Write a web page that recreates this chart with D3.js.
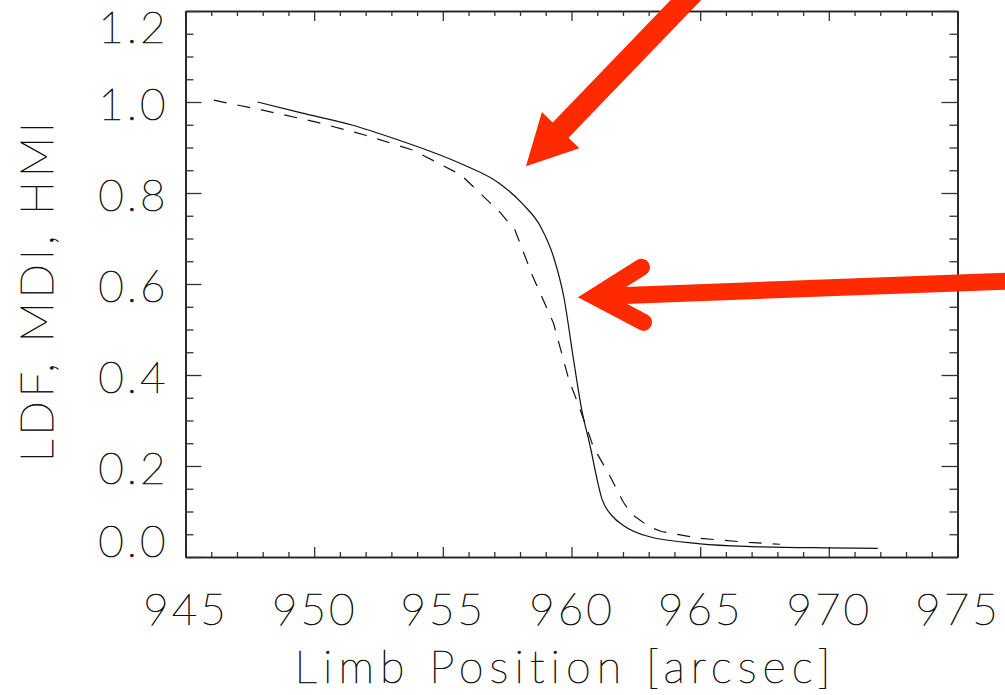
<!DOCTYPE html>
<html>
<head>
<meta charset="utf-8">
<script src="https://cdn.jsdelivr.net/npm/d3@7"></script>
<style>
  html, body { margin: 0; padding: 0; background: #fff; }
  svg text { font-family: Lato, "DejaVu Sans", sans-serif; font-weight: 200; fill: #111; stroke: #111; stroke-width: 0.7px; }
</style>
</head>
<body>
<div id="chart"></div>
<script>
// curve values
const solidX = [947.8, 949.5, 951.5, 953.3, 954.4, 955.8, 957.2, 958.1, 958.8, 959.3, 959.7, 960.1, 960.4, 960.7, 961.2, 961.6, 962.0, 963.0, 965.0, 967.0, 970.0, 971.9];
const solidY = [1.0, 0.976, 0.949, 0.916, 0.894, 0.862, 0.821, 0.776, 0.726, 0.660, 0.572, 0.426, 0.323, 0.250, 0.125, 0.089, 0.070, 0.045, 0.029, 0.023, 0.020, 0.019];

const dashX = [946.1, 948.0, 950.0, 952.0, 953.85, 955.7, 957.2, 957.8, 958.5, 959.3, 959.9, 960.3, 960.85, 961.5, 962.0, 962.3, 963.0, 963.5, 965.0, 966.9, 968.1];
const dashY = [1.004, 0.982, 0.957, 0.927, 0.894, 0.840, 0.759, 0.719, 0.616, 0.514, 0.389, 0.330, 0.242, 0.177, 0.122, 0.096, 0.067, 0.056, 0.041, 0.032, 0.028];

const xTicks = [945, 950, 955, 960, 965, 970, 975];
const yTicks = [0.0, 0.2, 0.4, 0.6, 0.8, 1.0, 1.2];

// red annotation arrows, tail -> tip, in data units
const arrowTails = [[965.38, 1.279], [977.24, 0.607]];
const arrowTips = [[958.23, 0.859], [960.25, 0.571]];

const width = 1005, height = 695;
const margin = { top: 11, right: 47.5, bottom: 138, left: 185.5 };
const w = width - margin.left - margin.right;
const h = height - margin.top - margin.bottom;

const svg = d3.select("#chart").append("svg")
  .attr("width", width)
  .attr("height", height);

const g = svg.append("g")
  .attr("transform", `translate(${margin.left},${margin.top})`);

const x = d3.scaleLinear().domain([945, 975]).range([0, w]);
const y = d3.scaleLinear().domain([0, 1.2]).range([h, 0]);

const xMinor = d3.range(945, 976, 1).filter(v => v % 5 !== 0);
const yMinor = d3.range(0, 25, 1).map(i => i * 0.05).filter((v, i) => i % 4 !== 0);

// ticks on all four sides, pointing inward
function styleAxis(sel) {
  sel.select(".domain").attr("stroke", "#222").attr("stroke-width", 1.6);
  sel.selectAll(".tick line").attr("stroke", "#333").attr("stroke-width", 1.3);
}

g.append("g").attr("transform", `translate(0,${h})`)
  .call(d3.axisBottom(x).tickValues(xTicks).tickSize(-10).tickSizeOuter(0).tickFormat(d3.format("d")))
  .call(styleAxis)
  .call(a => a.selectAll("text").attr("y", 68).attr("dy", 0)
    .style("font-size", "44px").style("letter-spacing", "3px").attr("fill", "#111"));
g.append("g").attr("transform", `translate(0,${h})`)
  .call(d3.axisBottom(x).tickValues(xMinor).tickSize(-5).tickSizeOuter(0).tickFormat(""))
  .call(styleAxis);
g.append("g")
  .call(d3.axisTop(x).tickValues(xTicks).tickSize(-10).tickSizeOuter(0).tickFormat(""))
  .call(styleAxis);
g.append("g")
  .call(d3.axisTop(x).tickValues(xMinor).tickSize(-5).tickSizeOuter(0).tickFormat(""))
  .call(styleAxis);

g.append("g")
  .call(d3.axisLeft(y).tickValues(yTicks).tickSize(-16).tickSizeOuter(0).tickFormat(d3.format(".1f")))
  .call(styleAxis)
  .call(a => a.selectAll("text")
    .attr("x", -17)
    .attr("y", d => {
      // keep the end labels inside the frame, like the original
      const c = y(d) + 2;
      return Math.max(16, Math.min(h - 16, c)) - y(d);
    })
    .attr("dy", "0.36em")
    .style("font-size", "44px").style("letter-spacing", "3px").attr("fill", "#111"));
g.append("g")
  .call(d3.axisLeft(y).tickValues(yMinor).tickSize(-8).tickSizeOuter(0).tickFormat(""))
  .call(styleAxis);
g.append("g").attr("transform", `translate(${w},0)`)
  .call(d3.axisRight(y).tickValues(yTicks).tickSize(-16).tickSizeOuter(0).tickFormat(""))
  .call(styleAxis);
g.append("g").attr("transform", `translate(${w},0)`)
  .call(d3.axisRight(y).tickValues(yMinor).tickSize(-8).tickSizeOuter(0).tickFormat(""))
  .call(styleAxis);

// the two profiles
g.append("path")
  .datum(dashX.map((v, i) => [v, dashY[i]]))
  .attr("d", d3.line().x(d => x(d[0])).y(d => y(d[1])))
  .attr("fill", "none")
  .attr("stroke", "#111")
  .attr("stroke-width", 1.2)
  .attr("stroke-dasharray", "13,11");

g.append("path")
  .datum(solidX.map((v, i) => [v, solidY[i]]))
  .attr("d", d3.line().x(d => x(d[0])).y(d => y(d[1])).curve(d3.curveMonotoneX))
  .attr("fill", "none")
  .attr("stroke", "#111")
  .attr("stroke-width", 1.2);

// axis titles
g.append("text")
  .attr("x", x(959.65) + 3)
  .attr("y", h + 126)
  .attr("text-anchor", "middle")
  .style("font-size", "45px")
  .style("letter-spacing", "6px")
  .text("Limb Position [arcsec]");

g.append("text")
  .attr("transform", `translate(${38 - margin.left + 15},${279})rotate(-90)`)
  .attr("text-anchor", "middle")
  .style("font-size", "45px")
  .style("letter-spacing", "4px")
  .text("LDF, MDI, HMI");

// red arrows on top
const red = "#ff2a00";
const ann = svg.append("g").attr("transform", `translate(${margin.left},${margin.top})`);

function unit(a, b) {
  const dx = b[0] - a[0], dy = b[1] - a[1], len = Math.hypot(dx, dy);
  return [dx / len, dy / len];
}

// arrow 1: filled head
{
  const t0 = [x(arrowTails[0][0]), y(arrowTails[0][1])];
  const t1 = [x(arrowTips[0][0]), y(arrowTips[0][1])];
  const u = unit(t0, t1), n = [-u[1], u[0]];
  const headLen = 50, headHalf = 26, shaftHalf = 11;
  const base = [t1[0] - u[0] * headLen, t1[1] - u[1] * headLen];
  const pts = [
    [t0[0] + n[0] * shaftHalf, t0[1] + n[1] * shaftHalf],
    [base[0] + n[0] * shaftHalf, base[1] + n[1] * shaftHalf],
    [base[0] + n[0] * headHalf, base[1] + n[1] * headHalf],
    t1,
    [base[0] - n[0] * headHalf, base[1] - n[1] * headHalf],
    [base[0] - n[0] * shaftHalf, base[1] - n[1] * shaftHalf],
    [t0[0] - n[0] * shaftHalf, t0[1] - n[1] * shaftHalf]
  ];
  ann.append("polygon").attr("points", pts.map(p => p.join(",")).join(" ")).attr("fill", red);
}

// arrow 2: open chevron head with rounded ends
{
  const t0 = [x(arrowTails[1][0]), y(arrowTails[1][1])];
  const t1 = [x(arrowTips[1][0]), y(arrowTips[1][1])];
  const u = unit(t0, t1);
  const sw = 17, half = Math.PI / 6, armLen = 55;
  const m = (sw / 2) / Math.sin(half);
  const v = [t1[0] - u[0] * m, t1[1] - u[1] * m];
  const b = [-u[0], -u[1]];
  const rot = a => [b[0] * Math.cos(a) - b[1] * Math.sin(a), b[0] * Math.sin(a) + b[1] * Math.cos(a)];
  const r1 = rot(half), r2 = rot(-half);
  ann.append("line")
    .attr("x1", t0[0]).attr("y1", t0[1])
    .attr("x2", v[0] + b[0] * 4).attr("y2", v[1] + b[1] * 4)
    .attr("stroke", red).attr("stroke-width", sw);
  ann.append("polyline")
    .attr("points", [[v[0] + r1[0] * armLen, v[1] + r1[1] * armLen], v, [v[0] + r2[0] * armLen, v[1] + r2[1] * armLen]].map(p => p.join(",")).join(" "))
    .attr("fill", "none")
    .attr("stroke", red)
    .attr("stroke-width", sw)
    .attr("stroke-linecap", "round")
    .attr("stroke-linejoin", "miter")
    .attr("stroke-miterlimit", 10);
}
</script>
</body>
</html>
